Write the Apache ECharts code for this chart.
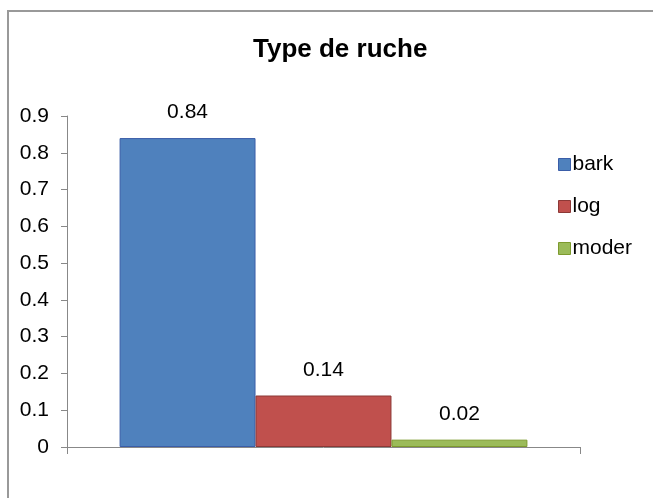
<!DOCTYPE html>
<html>
<head>
<meta charset="utf-8">
<style>
  html, body { margin: 0; padding: 0; background: #ffffff; }
  #chart { width: 653px; height: 498px; }
</style>
<script src="https://cdn.jsdelivr.net/npm/echarts@6/dist/echarts.min.js"></script>
</head>
<body>
<div id="chart"></div>
<script>
// Hive type shares
const categories = [''];
const seriesNames = ['bark', 'log', 'moder'];
const seriesValues = [0.84, 0.14, 0.02];
const yTicks = { min: 0, max: 0.9, interval: 0.1 };

const fills = ['#4F81BD', '#C0504D', '#9BBB59'];
const borders = ['#3A5DA8', '#8C3836', '#7D9A2E'];
const font = 'Liberation Sans, Arial, sans-serif';

const chart = echarts.init(document.getElementById('chart'), null, { renderer: 'canvas' });

const series = seriesNames.map((name, i) => ({
  name: name,
  type: 'bar',
  data: [seriesValues[i]],
  barGap: '0%',
  barCategoryGap: '20.5%',
  itemStyle: { color: fills[i], borderColor: borders[i], borderWidth: 1 },
  label: {
    show: true,
    position: 'top',
    distance: 15,
    color: '#000',
    fontFamily: font,
    fontSize: 21,
    formatter: p => String(p.value)
  }
}));

chart.setOption({
  backgroundColor: '#ffffff',
  animation: false,
  title: {
    text: 'Type de ruche',
    left: 248,
    top: 32,
    textStyle: { fontFamily: font, fontSize: 26, fontWeight: 'bold', color: '#000' }
  },
  legend: {
    orient: 'vertical',
    left: 553,
    top: 149,
    itemWidth: 12,
    itemHeight: 12,
    itemGap: 21,
    icon: 'rect',
    data: seriesNames.map((n, i) => ({
      name: n,
      itemStyle: { color: fills[i], borderColor: borders[i], borderWidth: 1 }
    })),
    textStyle: { fontFamily: font, fontSize: 21, color: '#000', lineHeight: 20, padding: [0, 0, 0, -3] }
  },
  grid: { left: 67, right: 73, top: 116, bottom: 51, containLabel: false },
  xAxis: {
    type: 'category',
    data: categories,
    axisLine: { show: true, lineStyle: { color: '#888888', width: 1 } },
    axisTick: { show: true, length: 7, lineStyle: { color: '#888888' } },
    axisLabel: { show: false },
    splitLine: { show: false }
  },
  yAxis: {
    type: 'value',
    min: yTicks.min,
    max: yTicks.max,
    interval: yTicks.interval,
    axisLine: { show: true, lineStyle: { color: '#888888', width: 1 } },
    axisTick: { show: true, length: 6, lineStyle: { color: '#888888' } },
    axisLabel: {
      margin: 18,
      fontFamily: font,
      fontSize: 21,
      color: '#000',
      formatter: v => String(Math.round(v * 10) / 10)
    },
    splitLine: { show: false }
  },
  graphic: [{
    type: 'rect',
    shape: { x: 8, y: 11, width: 700, height: 600 },
    style: { fill: 'none', stroke: '#999999', lineWidth: 2 },
    silent: true,
    z: -1
  }],
  series: series
});
</script>
</body>
</html>
